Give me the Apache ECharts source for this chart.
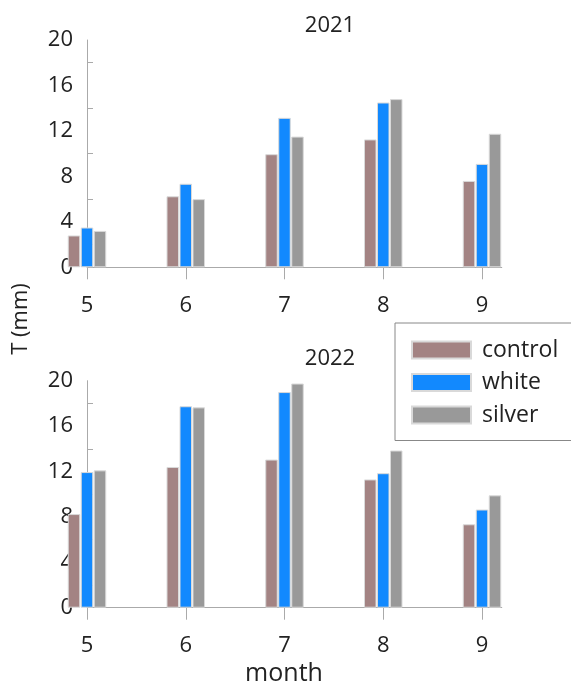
<!DOCTYPE html>
<html>
<head>
<meta charset="utf-8">
<script src="https://cdn.jsdelivr.net/npm/echarts@6/dist/echarts.min.js"></script>
<style>
html,body{margin:0;padding:0;background:#fff;}
#c{width:571px;height:686px;}
</style>
</head>
<body>
<div id="c"></div>
<script>
var months = [5, 6, 7, 8, 9];
var seriesNames = ['control', 'white', 'silver'];
var yTickLabels = [0, 4, 8, 12, 16, 20];
var yMinorTicks = [2, 6, 10, 14, 18];
var panelTitles = ['2021', '2022'];

var control2021 = [2.8, 6.25, 9.95, 11.25, 7.6];
var white2021   = [3.5, 7.35, 13.15, 14.5, 9.1];
var silver2021  = [3.2, 6.0, 11.5, 14.8, 11.75];

var control2022 = [8.25, 12.4, 13.05, 11.3, 7.35];
var white2022   = [11.95, 17.75, 19.0, 11.85, 8.65];
var silver2022  = [12.1, 17.65, 19.75, 13.85, 9.9];

var colors = ['#a38383', '#1289fe', '#999999'];
var FONT = 'Open Sans';

function pairs(vals) { return months.map(function (m, i) { return [m, vals[i]]; }); }

var chart = echarts.init(document.getElementById('c'), null, {renderer: 'canvas'});

function xAxisDef(gi) {
  return {
    type: 'value', gridIndex: gi, min: 5, max: 9.2, interval: 1,
    axisLine: {show: true, onZero: false, lineStyle: {color: '#aaaaaa', width: 1}},
    axisTick: {show: true, length: 12, customValues: months, lineStyle: {color: '#aaaaaa'}},
    axisLabel: {customValues: months, margin: 27, fontSize: 22, color: '#222', fontFamily: FONT},
    splitLine: {show: false}
  };
}
function yAxisDef(gi) {
  return {
    type: 'value', gridIndex: gi, min: 0, max: 20, interval: 4,
    axisLine: {show: true, lineStyle: {color: '#aaaaaa', width: 1}},
    axisTick: {show: true, inside: true, length: 6, customValues: yMinorTicks, lineStyle: {color: '#aaaaaa'}},
    axisLabel: {customValues: yTickLabels, margin: 14, fontSize: 22, color: '#222', fontFamily: FONT},
    splitLine: {show: false}
  };
}
function bar(name, vals, gi, ci) {
  return {
    name: name, type: 'bar', xAxisIndex: gi, yAxisIndex: gi,
    data: pairs(vals), barWidth: 12.5, barGap: '4%',
    itemStyle: {color: colors[ci], borderColor: '#d9d9d9', borderWidth: 1},
    emphasis: {disabled: true}
  };
}

chart.setOption({
  animation: false,
  backgroundColor: '#ffffff',
  title: [
    {text: panelTitles[0], left: 325, top: 10, textAlign: 'center',
     textStyle: {fontSize: 22, fontWeight: 'normal', color: '#222', fontFamily: FONT}},
    {text: panelTitles[1], left: 325, top: 343, textAlign: 'center',
     textStyle: {fontSize: 22, fontWeight: 'normal', color: '#222', fontFamily: FONT}}
  ],
  legend: {
    data: seriesNames, orient: 'vertical', left: 395, top: 323,
    padding: [15.5, 90, 14, 16], itemWidth: 59, itemHeight: 17, itemGap: 9.5,
    borderColor: '#888888', borderWidth: 1, icon: 'rect',
    textStyle: {fontSize: 23, lineHeight: 23, color: '#222', fontFamily: FONT, padding: [0, 0, 0, 6]}
  },
  grid: [
    {left: 87, top: 40, width: 414.75, height: 227.3},
    {left: 87, top: 380.7, width: 414.75, height: 227}
  ],
  xAxis: [xAxisDef(0), xAxisDef(1)],
  yAxis: [yAxisDef(0), yAxisDef(1)],
  graphic: [
    {type: 'text', x: 21, y: 319, rotation: Math.PI / 2,
     style: {text: 'T (mm)', fontSize: 22, fill: '#222', fontFamily: FONT, textAlign: 'center', textVerticalAlign: 'middle'}},
    {type: 'text', x: 284, y: 674,
     style: {text: 'month', fontSize: 25, fill: '#222', fontFamily: FONT, textAlign: 'center', textVerticalAlign: 'middle'}}
  ],
  series: [
    bar(seriesNames[0], control2021, 0, 0),
    bar(seriesNames[1], white2021, 0, 1),
    bar(seriesNames[2], silver2021, 0, 2),
    bar(seriesNames[0], control2022, 1, 0),
    bar(seriesNames[1], white2022, 1, 1),
    bar(seriesNames[2], silver2022, 1, 2)
  ]
});
</script>
</body>
</html>
